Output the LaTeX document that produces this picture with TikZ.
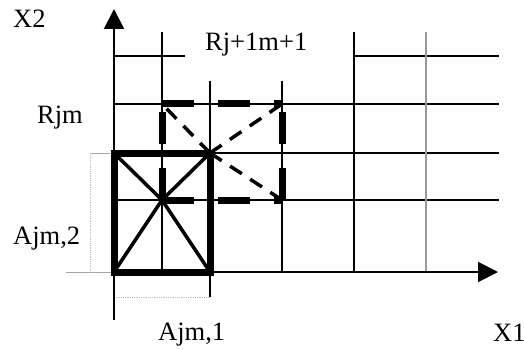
\documentclass[tikz,border=0pt]{standalone}
\usepackage{fontspec}
\setmainfont{Liberation Serif}
\usetikzlibrary{arrows.meta}
\begin{document}
\begin{tikzpicture}[x=1pt,y=-1pt,
  gridline/.style={line width=1.5pt},
  greyline/.style={line width=1.5pt,gray!80},
  extline/.style={line width=0.8pt,gray!70},
  dimline/.style={line width=0.8pt,gray!50,densely dotted},
  axisline/.style={line width=2pt,-{Triangle[length=20pt,width=20pt]}},
  heavy/.style={line width=7pt,line join=miter},
  heavydash/.style={line width=7pt,dash pattern=on 32pt off 24pt},
  diagline/.style={line width=3.5pt},
  diagdash/.style={line width=3.5pt,dash pattern=on 14pt off 10pt},
  lbl/.style={inner sep=0pt,anchor=base west,font=\fontsize{26.5}{30}\selectfont}]
\useasboundingbox (0,0) rectangle (524,350);

% key points
\coordinate (O) at (114,272);
\coordinate (c) at (162,200);
\coordinate (p) at (210,153);

% grid: horizontal
\draw[gridline] (114,56) -- (185,56);
\draw[gridline] (354,56) -- (499,56);
\draw[gridline] (114,104) -- (499,104);
\draw[gridline] (114,153) -- (499,153);
\draw[gridline] (114,200) -- (499,200);
% grid: vertical
\draw[gridline] (162,32) -- (162,272);
\draw[gridline] (210,81) -- (210,297);
\draw[gridline] (282,81) -- (282,272);
\draw[gridline] (354,32) -- (354,272);
\draw[greyline] (426,32) -- (426,272);

% extension / dimension lines
\draw[extline] (90,153) -- (114,153);
\draw[extline] (66,272) -- (114,272);
\draw[dimline] (90,153) -- (90,272);
\draw[dimline] (114,297) -- (210,297);

% axes
\draw[line width=2pt] (114,320) -- (O);
\draw[axisline] (O) -- (114,9);
\draw[axisline] (O) -- (498,272);

% dashed box and dashed diagonals
\draw[heavydash] (162,104) -- (282,104);
\draw[heavydash] (162,200) -- (282,200);
\draw[heavydash] (162,200) -- (162,104);
\draw[heavydash] (282,200) -- (282,104);
\draw[diagdash] (p) -- (162,104);
\draw[diagdash] (p) -- (282,104);
\draw[diagdash] (p) -- (282,200);

% solid box with diagonals to centre
\draw[diagline] (c) -- (114,153);
\draw[diagline] (c) -- (210,153);
\draw[diagline] (c) -- (114,272);
\draw[diagline] (c) -- (210,272);
\draw[heavy] (114,153) rectangle (210,272);

% labels
\node[lbl] (x2) at (13,28) {X2};
\node[lbl] (rjm) at (37,123) {Rjm};
\node[lbl] (rj1) at (205,51) {Rj+1m+1};
\node[lbl] (a2) at (13,244) {Ajm,2};
\node[lbl] (a1) at (158,340) {Ajm,1};
\node[lbl] (x1) at (493,341) {X1};
\end{tikzpicture}
\end{document}
